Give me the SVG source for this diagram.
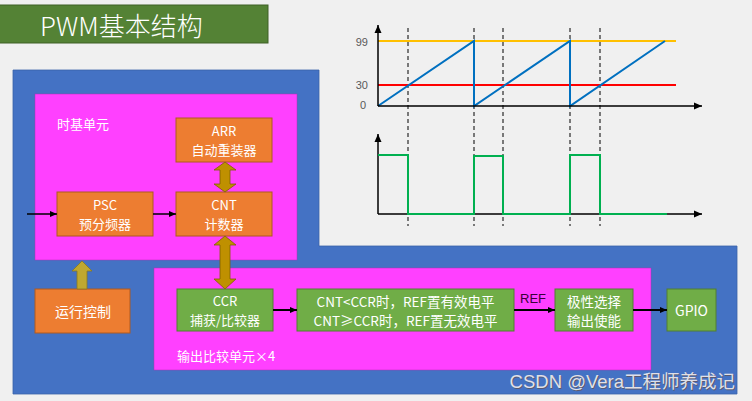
<svg xmlns="http://www.w3.org/2000/svg" width="752" height="401" viewBox="0 0 752 401">
<defs>
<style>
.t{font-family:"Noto Sans CJK SC","Liberation Sans",sans-serif;fill:#fff;font-size:14px;text-anchor:middle;dominant-baseline:central}
.t2{font-family:"Noto Sans CJK SC","Liberation Sans",sans-serif;fill:#fff;font-size:13px;text-anchor:middle;dominant-baseline:central}
.or{fill:#ED7D31;stroke:#AE5A21;stroke-width:1}
.gr{fill:#70AD47;stroke:#507E32;stroke-width:1}
.pk{fill:#FF40FF;stroke:#B030B0;stroke-width:0.5}
.ax{stroke:#000;stroke-width:1.5;fill:none}
.dash{stroke:#000;stroke-width:1;stroke-dasharray:4,3;fill:none}
.lbl{font-family:"Liberation Sans",Arial,sans-serif;font-size:11px;fill:#595959;text-anchor:end;dominant-baseline:central}
.dbl{fill:#BF9000;stroke:#7F6000;stroke-width:0.8}
.wm{font-family:"Liberation Sans","Noto Sans CJK SC",sans-serif;font-size:18.5px;text-anchor:end;dominant-baseline:central}
</style>
<marker id="ah" markerWidth="8" markerHeight="8" refX="7" refY="4" orient="auto" markerUnits="userSpaceOnUse">
<path d="M0,1 L7,4 L0,7 Z" fill="#000"/>
</marker>
<marker id="axh" markerWidth="10" markerHeight="10" refX="8" refY="5" orient="auto" markerUnits="userSpaceOnUse">
<path d="M0,1.5 L8,5 L0,8.5 Z" fill="#000"/>
</marker>
</defs>
<rect width="752" height="401" fill="#F0F0F0"/>

<g id="title">
<rect x="-2" y="5" width="270" height="38" fill="#548235" stroke="#3E6127" stroke-width="1"/>
<text x="40" y="24" style="font-family:'Noto Sans CJK SC','Liberation Sans',sans-serif;font-size:26px;font-weight:300;fill:#fff;dominant-baseline:central">PWM基本结构</text>
</g>

<g id="background-blue">
<path d="M13,70 H319 V246 H737 V394 H13 Z" fill="#4472C4" stroke="#3A62A8" stroke-width="0.8"/>
</g>

<g id="timebase">
<rect class="pk" x="35" y="94" width="262" height="166"/>
<text x="57" y="123" class="t" style="text-anchor:start;font-size:13px">时基单元</text>
</g>

<g id="output-compare">
<rect class="pk" x="154" y="268" width="497" height="102"/>
<text x="177" y="355" class="t" style="text-anchor:start;font-size:13px">输出比较单元×4</text>
</g>

<g id="ARR">
<rect class="or" x="176" y="118" width="96" height="44"/>
<text class="t2" x="224" y="130.5">ARR</text>
<text class="t2" x="224" y="149.5">自动重装器</text>
</g>
<g id="PSC">
<rect class="or" x="57" y="192" width="96" height="44"/>
<text class="t2" x="105" y="204.5">PSC</text>
<text class="t2" x="105" y="223.5">预分频器</text>
</g>
<g id="CNT">
<rect class="or" x="176" y="192" width="96" height="44"/>
<text class="t2" x="224" y="204.5">CNT</text>
<text class="t2" x="224" y="223.5">计数器</text>
</g>
<g id="run-control">
<rect class="or" x="35" y="289" width="95" height="44"/>
<text x="83" y="311" class="t">运行控制</text>
</g>
<g id="CCR">
<rect class="gr" x="177" y="289" width="96" height="42"/>
<text class="t2" x="225" y="300.5">CCR</text>
<text class="t2" x="225" y="319.5">捕获/比较器</text>
</g>
<g id="compare-rule">
<rect class="gr" x="297" y="289" width="217" height="42"/>
<text class="t2" x="405.5" y="300.5" style="font-size:13.5px">CNT&lt;CCR时，REF置有效电平</text>
<text class="t2" x="405.5" y="319.5" style="font-size:13.5px">CNT≥CCR时，REF置无效电平</text>
</g>
<g id="polarity">
<rect class="gr" x="555" y="289" width="78" height="42"/>
<text class="t2" x="594" y="300.5" style="font-size:13.5px">极性选择</text>
<text class="t2" x="594" y="319.5" style="font-size:13.5px">输出使能</text>
</g>
<g id="GPIO">
<rect class="gr" x="667" y="289" width="49" height="42"/>
<text x="691.5" y="310" class="t">GPIO</text>
</g>

<g id="connectors">
<line x1="27" y1="214" x2="57" y2="214" stroke="#000" stroke-width="1.5" marker-end="url(#ah)"/>
<line x1="153" y1="214" x2="176" y2="214" stroke="#000" stroke-width="1.5" marker-end="url(#ah)"/>
<line x1="273" y1="310" x2="297" y2="310" stroke="#000" stroke-width="2" marker-end="url(#ah)"/>
<line x1="514" y1="310" x2="555" y2="310" stroke="#000" stroke-width="2" marker-end="url(#ah)"/>
<text x="533" y="298" style="font-family:'Liberation Sans',Arial,sans-serif;font-size:13px;fill:#3A003A;text-anchor:middle;dominant-baseline:central">REF</text>
<line x1="633" y1="310" x2="667" y2="310" stroke="#000" stroke-width="2" marker-end="url(#ah)"/>
<path class="dbl" d="M225,162 L236,170 L230,170 L230,184 L236,184 L225,192 L214,184 L220,184 L220,170 L214,170 Z"/>
<path class="dbl" d="M225,236 L236,245 L230,245 L230,279 L236,279 L225,289 L214,279 L220,279 L220,245 L214,245 Z"/>
<path d="M82,261 L92,271 L87,271 L87,289 L77,289 L77,271 L72,271 Z" fill="#BFA830" stroke="#8A7A20" stroke-width="0.8"/>
</g>

<g id="chart">
<line class="dash" x1="408" y1="28" x2="408" y2="226"/>
<line class="dash" x1="474" y1="28" x2="474" y2="226"/>
<line class="dash" x1="503" y1="28" x2="503" y2="226"/>
<line class="dash" x1="570" y1="28" x2="570" y2="226"/>
<line class="dash" x1="600" y1="28" x2="600" y2="226"/>
<line x1="378" y1="41" x2="676" y2="41" stroke="#FFC000" stroke-width="2"/>
<line x1="378" y1="85" x2="676" y2="85" stroke="#FF0000" stroke-width="2"/>
<polyline points="378,106 474,41 474,106 570,41 570,106 665,41" fill="none" stroke="#0070C0" stroke-width="2"/>
<line class="ax" x1="378" y1="106" x2="378" y2="25" marker-end="url(#axh)"/>
<line class="ax" x1="378" y1="106" x2="702" y2="106" marker-end="url(#axh)"/>
<text class="lbl" x="368" y="42">99</text>
<text class="lbl" x="368" y="85">30</text>
<text class="lbl" x="366" y="105">0</text>
<line class="ax" x1="378" y1="214" x2="378" y2="134" marker-end="url(#axh)"/>
<line class="ax" x1="378" y1="214" x2="702" y2="214" marker-end="url(#axh)"/>
<polyline points="378,155 408,155 408,214 474,214 474,156 503,156 503,214 570,214 570,155 600,155 600,214 667,214" fill="none" stroke="#00B050" stroke-width="2"/>
</g>

<g id="watermark">
<text x="735" y="381" class="wm" fill="#5a5a70" transform="translate(1,1)">CSDN @Vera工程师养成记</text>
<text x="735" y="381" class="wm" fill="#E0E0E8">CSDN @Vera工程师养成记</text>
</g>
</svg>
